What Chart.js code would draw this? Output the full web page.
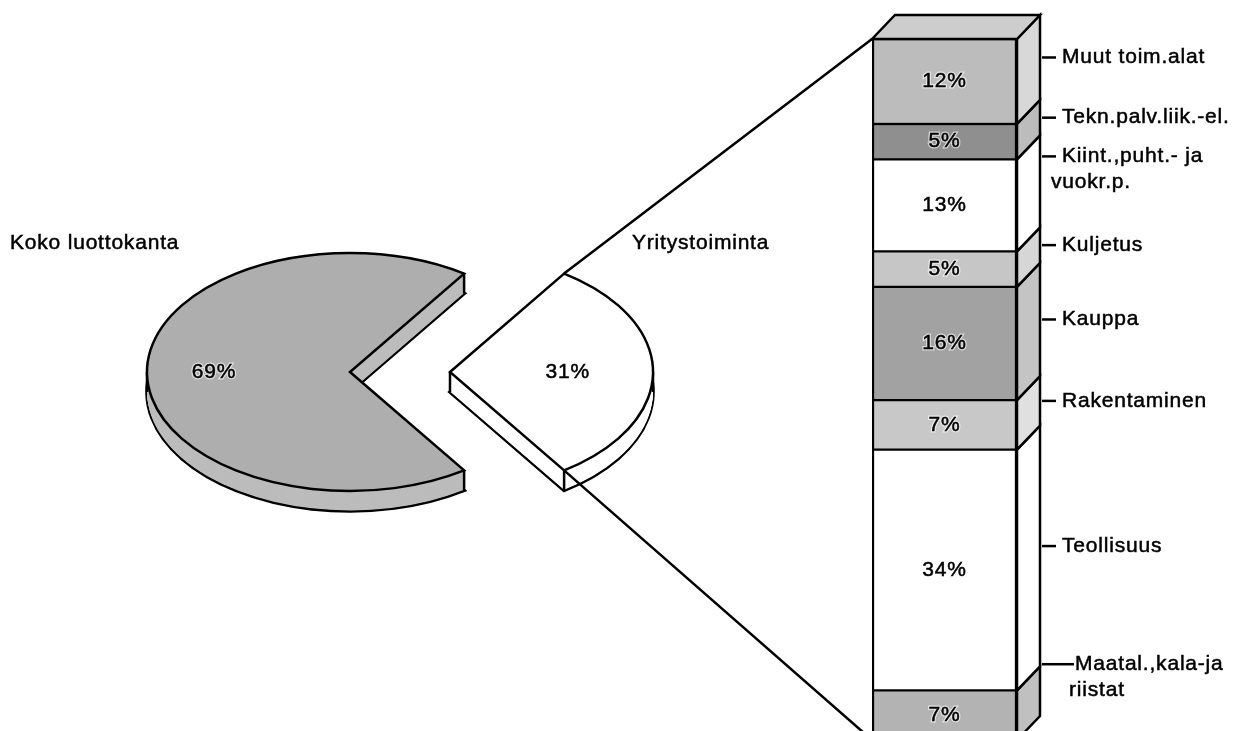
<!DOCTYPE html>
<html>
<head>
<meta charset="utf-8">
<script src="https://cdn.jsdelivr.net/npm/chart.js@4"></script>
<style>
  html, body { margin: 0; padding: 0; background: #fff; overflow: hidden; }
  #wrap { position: relative; width: 1233px; height: 731px; overflow: hidden; background: #fff; }
  #wrap canvas { position: absolute; left: 0; top: 0; }
</style>
</head>
<body>
<div id="wrap">
  <canvas id="pieChart" width="1233" height="731"></canvas>
  <canvas id="barChart" width="1233" height="760"></canvas>
</div>
<script>
// Koko luottokanta, split (%)
const pieLabels = ['Koko luottokanta', 'Yritystoiminta'];
const pieShares = [69, 31];

// Yritystoiminta by sector, bottom to top (%)
const sectors = [
  ['Maatal.,kala-ja', 'riistat'],
  ['Teollisuus'],
  ['Rakentaminen'],
  ['Kauppa'],
  ['Kuljetus'],
  ['Kiint.,puht.- ja', 'vuokr.p.'],
  ['Tekn.palv.liik.-el.'],
  ['Muut toim.alat']
];
const sectorShares = [7, 34, 7, 16, 5, 13, 5, 12];

// look
const K = 119 / 203;          // vertical squash of the pie
const PIE_DEPTH = 20;
const explode = [0, 100];
const pieFill = ['#aeaeae', '#ffffff'];
const pieSide = ['#bcbcbc', '#ffffff'];
const labelRadius = [0.67, 0.58];

const BAR_DX = 23, BAR_DY = 24;
const barShades = ['#b3b3b3', '#ffffff', '#c8c8c8', '#a2a2a2', '#c6c6c6', '#ffffff', '#8f8f8f', '#bcbcbc'];
const sideShades = ['#c0c0c0', '#ffffff', '#e0e0e0', '#c4c4c4', '#d6d6d6', '#ffffff', '#bcbcbc', '#d8d8d8'];
const tickLen = [32, 14, 14, 14, 14, 14, 14, 14];
const textGap = [1, 6, 6, 6, 6, 6, 6, 6];
const labelLift = [27, 0, 0, 0, 0, 25, 0, 0];

const FONT = '21px "Liberation Sans", Arial, sans-serif';

function text(ctx, str, x, y, align) {
  ctx.save();
  ctx.font = FONT;
  ctx.letterSpacing = '0.8px';
  ctx.textAlign = align || 'left';
  ctx.textBaseline = 'middle';
  ctx.lineWidth = 3;
  ctx.strokeStyle = 'rgba(255,255,255,0.6)';
  ctx.strokeText(str, x, y);
  ctx.fillStyle = '#000';
  ctx.fillText(str, x, y);
  ctx.lineWidth = 0.5;
  ctx.strokeStyle = '#000';
  ctx.strokeText(str, x, y);
  ctx.restore();
}

function sector(ctx, x, y, r, a0, a1) {
  ctx.beginPath();
  ctx.moveTo(x, y);
  ctx.arc(x, y, r, a0, a1);
  ctx.closePath();
}

// side faces, labels and lid of the stacked bar
const bar3d = {
  id: 'bar3d',
  afterDatasetsDraw(chart) {
    const ctx = chart.ctx;
    ctx.save();
    ctx.lineWidth = 2.5;
    ctx.strokeStyle = '#000';
    ctx.lineJoin = 'miter';
    let stackTop = Infinity, left = 0, right = 0;

    chart.data.datasets.forEach((ds, i) => {
      const bar = chart.getDatasetMeta(i).data[0];
      const top = Math.min(bar.y, bar.base), bottom = Math.max(bar.y, bar.base);
      left = bar.x - bar.width / 2;
      right = bar.x + bar.width / 2;
      stackTop = Math.min(stackTop, top);

      ctx.beginPath();
      ctx.moveTo(right, bottom);
      ctx.lineTo(right + BAR_DX, bottom - BAR_DY);
      ctx.lineTo(right + BAR_DX, top - BAR_DY);
      ctx.lineTo(right, top);
      ctx.closePath();
      ctx.fillStyle = sideShades[i];
      ctx.fill();
      ctx.stroke();

      text(ctx, sectorShares[i] + '%', bar.x, (top + bottom) / 2, 'center');

      const ty = (top + bottom) / 2 - BAR_DY - labelLift[i];
      const tx0 = right + BAR_DX + 2, tx1 = tx0 + tickLen[i];
      ctx.beginPath();
      ctx.moveTo(tx0, ty);
      ctx.lineTo(tx1, ty);
      ctx.stroke();
      sectors[i].forEach((line, j) => {
        text(ctx, line, j === 0 ? tx1 + textGap[i] : tx1 - 5, ty + j * 26);
      });
    });

    ctx.beginPath();
    ctx.moveTo(left, stackTop);
    ctx.lineTo(left + BAR_DX, stackTop - BAR_DY);
    ctx.lineTo(right + BAR_DX, stackTop - BAR_DY);
    ctx.lineTo(right, stackTop);
    ctx.closePath();
    ctx.fillStyle = '#cdcdcd';
    ctx.fill();
    ctx.stroke();
    ctx.restore();
  }
};

const barChart = new Chart(document.getElementById('barChart'), {
  type: 'bar',
  data: {
    labels: ['Yritystoiminta'],
    datasets: sectors.map((s, i) => ({
      label: s.join(' '),
      data: [sectorShares[i]],
      backgroundColor: barShades[i],
      borderColor: '#000',
      borderWidth: { left: 2.5, right: 2.5, top: 1.5, bottom: 1.5 },
      borderSkipped: false,
      barPercentage: 1,
      categoryPercentage: 1
    }))
  },
  options: {
    responsive: false,
    animation: false,
    events: [],
    layout: { padding: { left: 872, right: 216, top: 39, bottom: 20 } },
    scales: {
      x: { display: false, stacked: true },
      y: { display: false, stacked: true, min: 0, max: sectorShares.reduce((a, b) => a + b, 0) }
    },
    plugins: { legend: { display: false }, tooltip: { enabled: false } }
  },
  plugins: [bar3d]
});

// squashed, extruded pie with the exploded slice
const pie3d = {
  id: 'pie3d',
  beforeDatasetsDraw(chart) {
    const ctx = chart.ctx;
    const arcs = chart.getDatasetMeta(0).data;
    const dz = PIE_DEPTH / K;
    ctx.save();
    ctx.strokeStyle = '#000';
    ctx.lineJoin = 'miter';

    arcs.forEach((arc, i) => {
      const { x, y, startAngle: a0, endAngle: a1, outerRadius: r } = arc;
      const squashed = (dy, draw) => {
        ctx.save();
        ctx.translate(x, y);
        ctx.scale(1, K);
        ctx.translate(-x + explode[i], -y + dy);
        draw();
        ctx.restore();
      };

      // bottom outline first, then the walls layer by layer hide its back parts
      ctx.fillStyle = pieSide[i];
      ctx.lineWidth = 3.5;
      squashed(dz, () => sector(ctx, x, y, r, a0, a1));
      ctx.fill();
      ctx.stroke();
      for (let d = dz - 1; d > 0; d -= 1) {
        squashed(d, () => sector(ctx, x, y, r, a0, a1));
        ctx.fill();
      }

      // vertical edges
      ctx.lineWidth = 2.5;
      const sx = x + explode[i];
      const edges = [a0, a1].concat([Math.PI, 2 * Math.PI, 3 * Math.PI].filter(a => a > a0 && a < a1));
      ctx.beginPath();
      ctx.moveTo(sx, y);
      ctx.lineTo(sx, y + PIE_DEPTH);
      edges.forEach(a => {
        const px = sx + r * Math.cos(a), py = y + K * r * Math.sin(a);
        ctx.moveTo(px, py);
        ctx.lineTo(px, py + PIE_DEPTH);
      });
      ctx.stroke();

      // top face
      squashed(0, () => arc.draw(ctx));
      squashed(0, () => sector(ctx, x, y, r, a0, a1));
      ctx.stroke();
    });
    ctx.restore();
    return false;
  },
  afterDraw(chart) {
    const ctx = chart.ctx;
    const arcs = chart.getDatasetMeta(0).data;
    const cx = arcs[0].x, cy = arcs[0].y;

    text(ctx, pieLabels[0], cx - 340, cy - 129);
    text(ctx, pieLabels[1], cx + 282, cy - 129);

    arcs.forEach((arc, i) => {
      const mid = (arc.startAngle + arc.endAngle) / 2;
      const rr = arc.outerRadius * labelRadius[i];
      text(ctx, pieShares[i] + '%', cx + explode[i] + rr * Math.cos(mid), cy + K * rr * Math.sin(mid), 'center');
    });

    // lines from the slice to the bar
    const s = arcs[1];
    const sx = s.x + explode[1];
    const topBar = barChart.getDatasetMeta(sectors.length - 1).data[0];
    const lowBar = barChart.getDatasetMeta(0).data[0];
    const barLeft = lowBar.x - lowBar.width / 2;
    ctx.save();
    ctx.lineWidth = 2.5;
    ctx.strokeStyle = '#000';
    ctx.beginPath();
    ctx.moveTo(sx + s.outerRadius * Math.cos(s.startAngle), cy + K * s.outerRadius * Math.sin(s.startAngle));
    ctx.lineTo(barLeft, Math.min(topBar.y, topBar.base));
    ctx.moveTo(sx + s.outerRadius * Math.cos(s.endAngle), cy + K * s.outerRadius * Math.sin(s.endAngle));
    ctx.lineTo(barLeft, Math.max(lowBar.y, lowBar.base));
    ctx.stroke();
    ctx.restore();
  }
};

new Chart(document.getElementById('pieChart'), {
  type: 'pie',
  data: {
    labels: pieLabels,
    datasets: [{
      data: pieShares,
      backgroundColor: pieFill,
      borderWidth: 0,
      clip: false
    }]
  },
  options: {
    responsive: false,
    animation: false,
    events: [],
    radius: 203,
    rotation: 145.8,
    layout: { padding: { left: 0, right: 533, top: 13, bottom: 0 } },
    plugins: { legend: { display: false }, tooltip: { enabled: false } }
  },
  plugins: [pie3d]
});
</script>
</body>
</html>
